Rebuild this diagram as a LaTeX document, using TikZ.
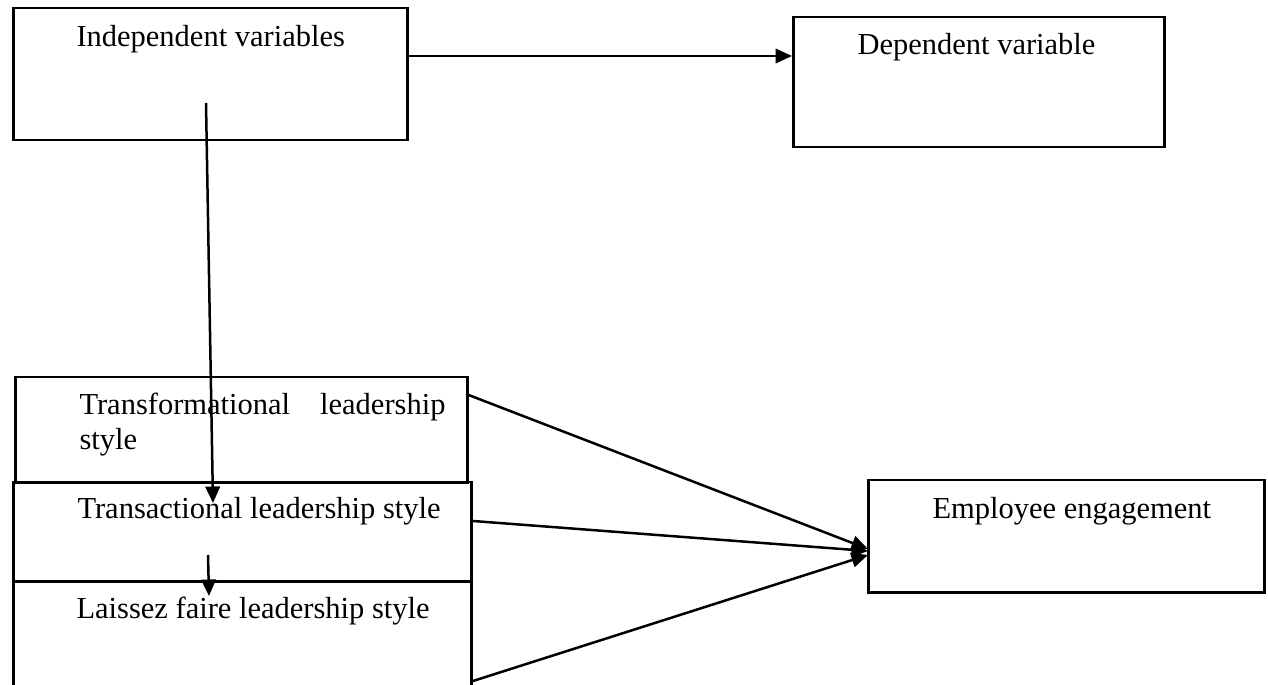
\documentclass[tikz,border=0pt]{standalone}
\usepackage{fontspec}
\setmainfont{Liberation Serif}
\usetikzlibrary{arrows.meta}

\begin{document}
\begin{tikzpicture}[x=0.4pt, y=-0.4pt,
    varbox/.style={rectangle, draw=black, line width=1pt, anchor=north west, inner sep=0},
    lbl/.style={anchor=base west, inner sep=0, font=\fontsize{12.2pt}{14pt}\selectfont},
    arr/.style={line width=1pt, -{Triangle[length=6.6pt, width=5.8pt]}}]
    \useasboundingbox (0,0) rectangle (1268,685);
    \begin{scope}
    % top row
    \node (indep) [varbox, minimum width=157.6pt, minimum height=52.8pt] at (12,7) {};
    \node (indeptxt) [lbl] at (76,47) {Independent variables};
    \node (dep) [varbox, minimum width=148.4pt, minimum height=52pt] at (792,16) {};
    \node (deptxt) [lbl] at (857,55) {Dependent variable};
    \coordinate (indepout) at (406,56);
    \coordinate (depin) at (792,56);
    \draw [arr] (indepout) -- (depin);
    \end{scope}
    \begin{scope}
    % leadership styles
    \node (trf) [varbox, minimum width=180.8pt, minimum height=42pt] at (14,376) {};
    \node (trftxt) [anchor=north west, inner sep=0, text width=146.4pt, align=left,
        font=\fontsize{12.2pt}{14pt}\selectfont] at (79,392.5) {Transformational\hfill leadership\\style};
    \node (trs) [varbox, minimum width=183.2pt, minimum height=39.6pt] at (12,481) {};
    \node (trstxt) [lbl] at (77,519) {Transactional leadership style};
    \node (lf) [varbox, minimum width=183.2pt, minimum height=44pt] at (12,580) {};
    \node (lftxt) [lbl] at (76,618) {Laissez faire leadership style};
    \node (emp) [varbox, minimum width=158.4pt, minimum height=44.8pt] at (867,479) {};
    \node (emptxt) [lbl] at (932,519) {Employee engagement};
    \coordinate (downtop) at (206,103);
    \coordinate (downend) at (213,503);
    \draw [arr] (downtop) -- (downend);
    \coordinate (smalltop) at (208,555);
    \coordinate (smallend) at (209,596);
    \draw [arr] (smalltop) -- (smallend);
    \coordinate (trfout) at (466,394);
    \coordinate (trsout) at (473,521);
    \coordinate (lfout) at (473,681);
    \coordinate (empin1) at (868,549);
    \coordinate (empin2) at (868,551);
    \coordinate (empin3) at (868,555);
    \draw [arr] (trfout) -- (empin1);
    \draw [arr] (trsout) -- (empin2);
    \draw [arr] (lfout) -- (empin3);
    \end{scope}
\end{tikzpicture}
\end{document}
